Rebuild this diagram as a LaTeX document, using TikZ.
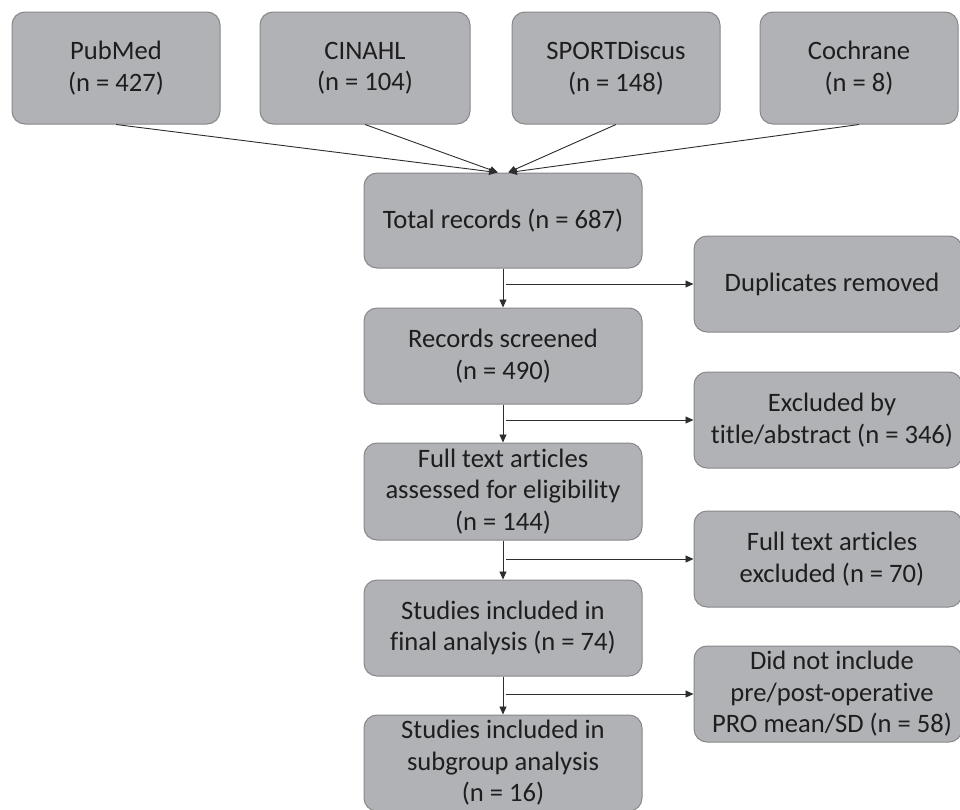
\documentclass[tikz,border=0pt]{standalone}
\usepackage{fontspec}
\setmainfont{Carlito}[Ligatures={NoCommon}]
\usetikzlibrary{arrows.meta,calc}
\definecolor{boxfill}{RGB}{177,178,181}
\definecolor{boxline}{RGB}{135,135,138}
\definecolor{txt}{RGB}{30,30,30}
\definecolor{arrc}{RGB}{45,45,45}
\newcommand{\rs}{\hspace*{8pt}}
\begin{document}
\begin{tikzpicture}[x=1pt,y=-1pt,
  box/.style={draw=boxline,line width=1pt,fill=boxfill,rounded corners=13pt,
    align=center,text=txt,inner sep=0pt,
    font=\fontsize{26.6}{31.5}\selectfont},
  arr/.style={draw=arrc,line width=0.9pt,-{Triangle[length=8pt,width=7pt]}}]
\useasboundingbox (0,0) rectangle (960,809);
% sources
\node[box,minimum width=208pt,minimum height=112pt] (pub) at (116,68) {PubMed\\(n = 427)};
\node[box,minimum width=210pt,minimum height=112pt] (cin) at (365,68) {CINAHL\\(n = 104)};
\node[box,minimum width=208pt,minimum height=112pt] (spo) at (616,68) {SPORTDiscus\\(n = 148)};
\node[box,minimum width=198pt,minimum height=112pt] (coc) at (859,68) {Cochrane\\(n = 8)};
% main column
\node[box,minimum width=278pt,minimum height=95pt] (tot) at (503,220.5) {Total records (n = 687)};
\node[box,minimum width=278pt,minimum height=96pt] (rsc) at (503,356) {Records screened\\(n = 490)};
\node[box,minimum width=278pt,minimum height=97pt] (ft) at (503,491.5) {Full text articles\\assessed for eligibility\\(n = 144)};
\node[box,minimum width=278pt,minimum height=96pt] (sf) at (503,628) {Studies included in\\final analysis (n = 74)};
\node[box,minimum width=278pt,minimum height=96pt] (sg) at (503,763) {Studies included in\\subgroup analysis\\(n = 16)};
% exclusions
\node[box,minimum width=268pt,minimum height=96pt] (dup) at (828,284) {\rs Duplicates removed};
\node[box,minimum width=268pt,minimum height=96pt] (exc) at (828,420) {\rs Excluded by\\\rs title/abstract (n = 346)};
\node[box,minimum width=268pt,minimum height=96pt] (fte) at (828,559) {\rs Full text articles\\\rs excluded (n = 70)};
\node[box,minimum width=268pt,minimum height=96pt] (dni) at (828,694) {\rs Did not include\\\rs pre/post-operative\\\rs PRO mean/SD (n = 58)};
% arrows from sources
\draw[arr] (pub.south) -- ([xshift=-6pt]tot.north);
\draw[arr] (cin.south) -- ([xshift=-5pt]tot.north);
\draw[arr] (spo.south) -- ([xshift=5pt]tot.north);
\draw[arr] (coc.south) -- ([xshift=6pt]tot.north);
% main flow
\draw[arr] (tot) -- (rsc);
\draw[arr] (rsc) -- (ft);
\draw[arr] (ft) -- (sf);
\draw[arr] (sf) -- (sg);
% branches
\coordinate (bx) at (506,0);
\draw[arr] (bx |- dup.west) -- (dup.west);
\draw[arr] (bx |- exc.west) -- (exc.west);
\draw[arr] (bx |- fte.west) -- (fte.west);
\draw[arr] (bx |- dni.west) -- (dni.west);
\end{tikzpicture}
\end{document}
